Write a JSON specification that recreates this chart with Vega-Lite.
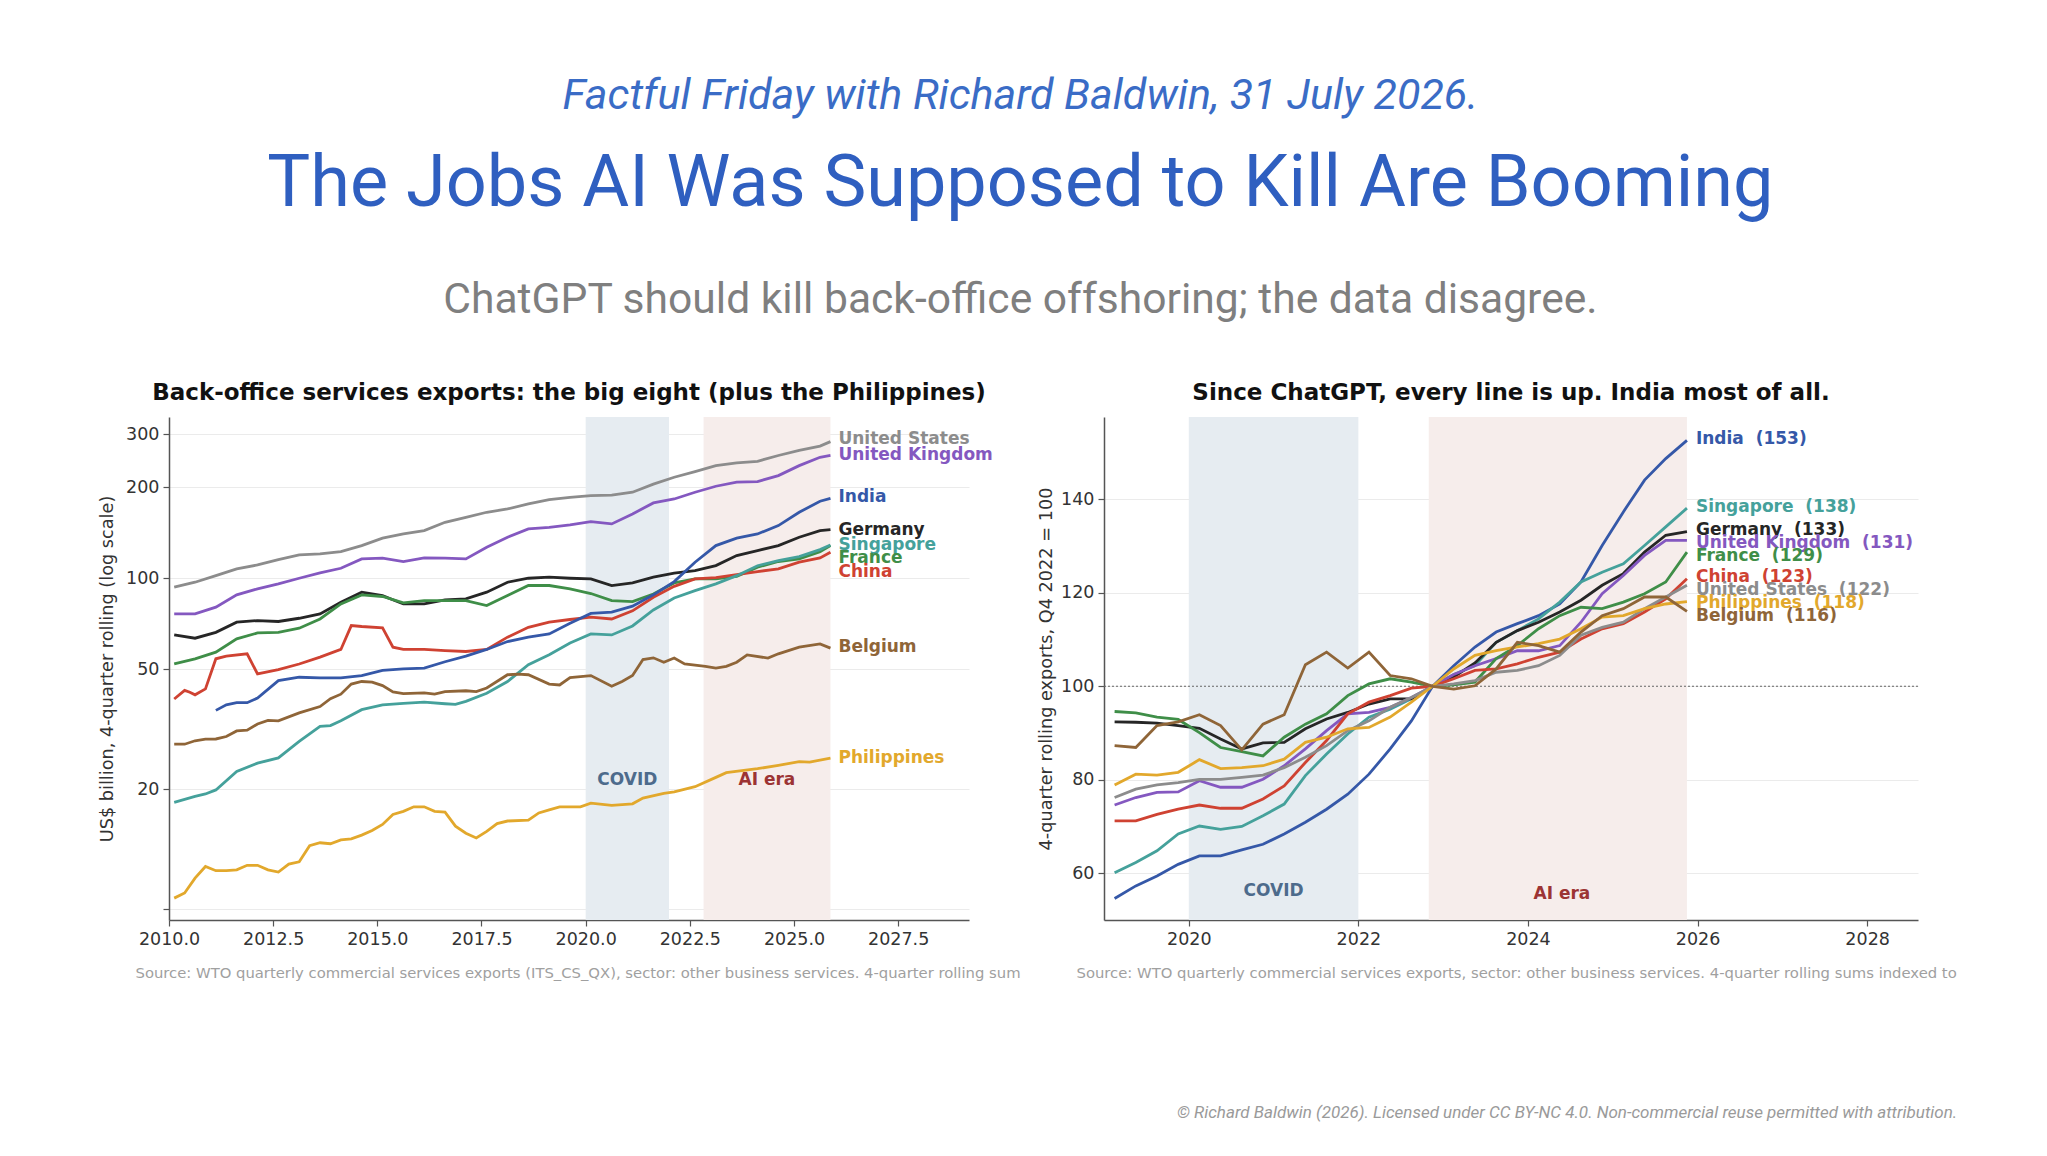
{
  "$schema": "https://vega.github.io/schema/vega-lite/v6.json",
  "background": "#ffffff",
  "autosize": {"type": "pad"},
  "padding": {"left": 98, "top": 75, "right": 10, "bottom": 20},
  "title": {"text": "© Richard Baldwin (2026). Licensed under CC BY-NC 4.0. Non-commercial reuse permitted with attribution.", "orient": "bottom", "anchor": "end", "font": "Roboto", "fontSize": 17, "fontStyle": "italic", "fontWeight": "normal", "color": "#9a9a9a", "offset": 125, "dx": 1},
  "vconcat": [
    {
      "title": {"text": "Factful Friday with Richard Baldwin, 31 July 2026.", "anchor": "middle", "font": "Roboto", "fontSize": 43, "fontStyle": "italic", "fontWeight": "normal", "color": "#3a6cc6", "offset": 30, "dx": -7},
      "vconcat": [
        {
          "title": {"text": "The Jobs AI Was Supposed to Kill Are Booming", "subtitle": "ChatGPT should kill back-office offshoring; the data disagree.", "anchor": "middle", "font": "Roboto", "fontSize": 72, "fontWeight": "normal", "color": "#2f5fc0", "subtitleFont": "Roboto", "subtitleFontSize": 42.6, "subtitleColor": "#7f7f7f", "subtitlePadding": 58, "offset": 59, "dx": -7},
          "spacing": 135,
          "bounds": "flush",
          "hconcat": [
            {
              "width": 800,
              "height": 503,
              "title": {"text": "Back-office services exports: the big eight (plus the Philippines)", "anchor": "middle", "font": "DejaVu Sans", "fontSize": 23, "fontWeight": "bold", "color": "#111111", "offset": 12},
              "layer": [
                {
                  "data": {"name": "bands"},
                  "mark": {"type": "rect"},
                  "encoding": {
                    "x": {"field": "year", "type": "quantitative", "scale": {"domain": [2010, 2029.2], "nice": false, "zero": false}},
                    "x2": {"field": "yearEnd"},
                    "fill": {"field": "band", "type": "nominal", "scale": {"domain": ["COVID", "AI era"], "range": ["#e6ecf1", "#f6edeb"]}, "legend": null}
                  }
                },
                {
                  "data": {"name": "left"},
                  "mark": {"type": "line", "strokeWidth": 2.8},
                  "encoding": {
                    "x": {"field": "year", "type": "quantitative", "scale": {"domain": [2010, 2029.2], "nice": false, "zero": false},
                      "axis": {"values": [2010, 2012.5, 2015, 2017.5, 2020, 2022.5, 2025, 2027.5], "format": ".1f", "labelFlush": false, "grid": false,
                        "title": "Source: WTO quarterly commercial services exports (ITS_CS_QX), sector: other business services. 4-quarter rolling sum",
                        "titleFontSize": 14.8, "titleColor": "#a0a0a0", "titleAnchor": "start", "titleAlign": "left", "titleX": -34, "titleY": 53, "titleBaseline": "middle"}},
                    "y": {"field": "value", "type": "quantitative", "scale": {"type": "log", "domain": [7.38, 342], "nice": false},
                      "axis": {"values": [8, 20, 50, 100, 200, 300], "format": "d", "labelExpr": "datum.value == 8 ? '' : datum.label", "grid": true, "title": "US$ billion, 4-quarter rolling (log scale)", "titleFontSize": 17.7, "titlePadding": 9}},
                    "color": {"field": "country", "type": "nominal", "legend": null,
                      "scale": {"domain": ["United States", "United Kingdom", "India", "Germany", "Singapore", "France", "China", "Belgium", "Philippines"], "range": ["#8c8c8c", "#8458c0", "#3558a8", "#262626", "#45a19b", "#3f8e48", "#cf4232", "#8f6538", "#e2a82c"]}}
                  }
                },
                {
                  "data": {"name": "leftLabels"},
                  "mark": {"type": "text", "align": "left", "baseline": "middle", "dx": 8, "font": "DejaVu Sans", "fontWeight": "bold", "fontSize": 17},
                  "encoding": {
                    "x": {"field": "year", "type": "quantitative"},
                    "y": {"field": "value", "type": "quantitative"},
                    "text": {"field": "label"},
                    "color": {"field": "country", "type": "nominal", "legend": null,
                      "scale": {"domain": ["United States", "United Kingdom", "India", "Germany", "Singapore", "France", "China", "Belgium", "Philippines"], "range": ["#8c8c8c", "#8458c0", "#3558a8", "#262626", "#45a19b", "#3f8e48", "#cf4232", "#8f6538", "#e2a82c"]}}
                  }
                },
                {
                  "data": {"name": "leftBandLabels"},
                  "mark": {"type": "text", "align": "center", "baseline": "middle", "font": "DejaVu Sans", "fontWeight": "bold", "fontSize": 17},
                  "encoding": {
                    "x": {"field": "year", "type": "quantitative"},
                    "y": {"field": "value", "type": "quantitative"},
                    "text": {"field": "label"},
                    "color": {"field": "label", "type": "nominal", "legend": null, "scale": {"domain": ["COVID", "AI era"], "range": ["#4d6b8c", "#9c3434"]}}
                  }
                }
              ],
              "resolve": {"scale": {"color": "independent"}}
            },
            {
              "width": 814,
              "height": 503,
              "title": {"text": "Since ChatGPT, every line is up. India most of all.", "anchor": "middle", "font": "DejaVu Sans", "fontSize": 23, "fontWeight": "bold", "color": "#111111", "offset": 12},
              "layer": [
                {
                  "data": {"name": "bands"},
                  "mark": {"type": "rect"},
                  "encoding": {
                    "x": {"field": "year", "type": "quantitative", "scale": {"domain": [2019, 2028.6], "nice": false, "zero": false}},
                    "x2": {"field": "yearEnd"},
                    "fill": {"field": "band", "type": "nominal", "scale": {"domain": ["COVID", "AI era"], "range": ["#e6ecf1", "#f6edeb"]}, "legend": null}
                  }
                },
                {
                  "data": {"name": "ref"},
                  "mark": {"type": "rule", "strokeDash": [2, 2], "color": "#666666", "strokeWidth": 1},
                  "encoding": {
                    "y": {"field": "value", "type": "quantitative"}
                  }
                },
                {
                  "data": {"name": "right"},
                  "mark": {"type": "line", "strokeWidth": 2.8},
                  "encoding": {
                    "x": {"field": "year", "type": "quantitative", "scale": {"domain": [2019, 2028.6], "nice": false, "zero": false},
                      "axis": {"values": [2020, 2022, 2024, 2026, 2028], "format": "d", "labelFlush": false, "grid": false,
                        "title": "Source: WTO quarterly commercial services exports, sector: other business services. 4-quarter rolling sums indexed to",
                        "titleFontSize": 14.8, "titleColor": "#a0a0a0", "titleAnchor": "start", "titleAlign": "left", "titleX": -28, "titleY": 53, "titleBaseline": "middle"}},
                    "y": {"field": "value", "type": "quantitative", "scale": {"domain": [50, 157.6], "nice": false, "zero": false},
                      "axis": {"values": [60, 80, 100, 120, 140], "grid": true, "title": "4-quarter rolling exports, Q4 2022 = 100", "titleFontSize": 17.7, "titlePadding": 5}},
                    "color": {"field": "country", "type": "nominal", "legend": null,
                      "scale": {"domain": ["United States", "United Kingdom", "India", "Germany", "Singapore", "France", "China", "Belgium", "Philippines"], "range": ["#8c8c8c", "#8458c0", "#3558a8", "#262626", "#45a19b", "#3f8e48", "#cf4232", "#8f6538", "#e2a82c"]}}
                  }
                },
                {
                  "data": {"name": "rightLabels"},
                  "mark": {"type": "text", "align": "left", "baseline": "middle", "dx": 9, "font": "DejaVu Sans", "fontWeight": "bold", "fontSize": 17},
                  "encoding": {
                    "x": {"field": "year", "type": "quantitative"},
                    "y": {"field": "value", "type": "quantitative"},
                    "text": {"field": "label"},
                    "color": {"field": "country", "type": "nominal", "legend": null,
                      "scale": {"domain": ["United States", "United Kingdom", "India", "Germany", "Singapore", "France", "China", "Belgium", "Philippines"], "range": ["#8c8c8c", "#8458c0", "#3558a8", "#262626", "#45a19b", "#3f8e48", "#cf4232", "#8f6538", "#e2a82c"]}}
                  }
                },
                {
                  "data": {"name": "rightBandLabels"},
                  "mark": {"type": "text", "align": "center", "baseline": "middle", "font": "DejaVu Sans", "fontWeight": "bold", "fontSize": 17},
                  "encoding": {
                    "x": {"field": "year", "type": "quantitative"},
                    "y": {"field": "value", "type": "quantitative"},
                    "text": {"field": "label"},
                    "color": {"field": "label", "type": "nominal", "legend": null, "scale": {"domain": ["COVID", "AI era"], "range": ["#4d6b8c", "#9c3434"]}}
                  }
                }
              ],
              "resolve": {"scale": {"color": "independent"}}
            }
          ]
        }
      ]
    }
  ],
  "datasets": {
    "bands": [
      {"band": "COVID", "year": 2020, "yearEnd": 2022},
      {"band": "AI era", "year": 2022.83, "yearEnd": 2025.875}
    ],
    "ref": [{"value": 100}],
    "leftBandLabels": [
      {"label": "COVID", "year": 2021.0, "value": 21.5},
      {"label": "AI era", "year": 2024.35, "value": 21.4}
    ],
    "rightBandLabels": [
      {"label": "COVID", "year": 2021.0, "value": 56.2},
      {"label": "AI era", "year": 2024.4, "value": 55.6}
    ],
    "leftLabels": [
      {"country": "United States", "year": 2025.875, "value": 289, "label": "United States"},
      {"country": "United Kingdom", "year": 2025.875, "value": 255, "label": "United Kingdom"},
      {"country": "India", "year": 2025.875, "value": 185.5, "label": "India"},
      {"country": "Germany", "year": 2025.875, "value": 144.9, "label": "Germany"},
      {"country": "Singapore", "year": 2025.875, "value": 129.2, "label": "Singapore"},
      {"country": "France", "year": 2025.875, "value": 116.5, "label": "France"},
      {"country": "China", "year": 2025.875, "value": 104.7, "label": "China"},
      {"country": "Belgium", "year": 2025.875, "value": 59.4, "label": "Belgium"},
      {"country": "Philippines", "year": 2025.875, "value": 25.35, "label": "Philippines"}
    ],
    "rightLabels": [
      {"country": "India", "year": 2025.875, "value": 153.0, "label": "India\u00a0 (153)"},
      {"country": "Singapore", "year": 2025.875, "value": 138.4, "label": "Singapore\u00a0 (138)"},
      {"country": "Germany", "year": 2025.875, "value": 133.4, "label": "Germany\u00a0 (133)"},
      {"country": "United Kingdom", "year": 2025.875, "value": 130.6, "label": "United Kingdom\u00a0 (131)"},
      {"country": "France", "year": 2025.875, "value": 127.9, "label": "France\u00a0 (129)"},
      {"country": "China", "year": 2025.875, "value": 123.4, "label": "China\u00a0 (123)"},
      {"country": "United States", "year": 2025.875, "value": 120.5, "label": "United States\u00a0 (122)"},
      {"country": "Philippines", "year": 2025.875, "value": 117.9, "label": "Philippines\u00a0 (118)"},
      {"country": "Belgium", "year": 2025.875, "value": 115.1, "label": "Belgium\u00a0 (116)"}
    ],
    "left": [
      {"country": "United States", "year": 2010.125, "value": 93.4},
      {"country": "United States", "year": 2010.625, "value": 97.0},
      {"country": "United States", "year": 2011.125, "value": 102},
      {"country": "United States", "year": 2011.625, "value": 107.4},
      {"country": "United States", "year": 2012.125, "value": 110.7},
      {"country": "United States", "year": 2012.625, "value": 115.3},
      {"country": "United States", "year": 2013.125, "value": 119.5},
      {"country": "United States", "year": 2013.625, "value": 120.4},
      {"country": "United States", "year": 2014.125, "value": 122.5},
      {"country": "United States", "year": 2014.625, "value": 128.3},
      {"country": "United States", "year": 2015.125, "value": 135.7},
      {"country": "United States", "year": 2015.625, "value": 140.2},
      {"country": "United States", "year": 2016.125, "value": 143.8},
      {"country": "United States", "year": 2016.625, "value": 153.2},
      {"country": "United States", "year": 2017.125, "value": 159.2},
      {"country": "United States", "year": 2017.625, "value": 165.4},
      {"country": "United States", "year": 2018.125, "value": 169.6},
      {"country": "United States", "year": 2018.625, "value": 176.2},
      {"country": "United States", "year": 2019.125, "value": 182.2},
      {"country": "United States", "year": 2019.625, "value": 185.4},
      {"country": "United States", "year": 2020.125, "value": 187.8},
      {"country": "United States", "year": 2020.625, "value": 188.5},
      {"country": "United States", "year": 2021.125, "value": 192.7},
      {"country": "United States", "year": 2021.625, "value": 205},
      {"country": "United States", "year": 2022.125, "value": 216},
      {"country": "United States", "year": 2022.625, "value": 225.6},
      {"country": "United States", "year": 2023.125, "value": 236},
      {"country": "United States", "year": 2023.625, "value": 241},
      {"country": "United States", "year": 2024.125, "value": 244},
      {"country": "United States", "year": 2024.625, "value": 255},
      {"country": "United States", "year": 2025.125, "value": 265},
      {"country": "United States", "year": 2025.625, "value": 274},
      {"country": "United States", "year": 2025.875, "value": 283.5},

      {"country": "United Kingdom", "year": 2010.125, "value": 76.2},
      {"country": "United Kingdom", "year": 2010.625, "value": 76.2},
      {"country": "United Kingdom", "year": 2011.125, "value": 80.2},
      {"country": "United Kingdom", "year": 2011.625, "value": 88.1},
      {"country": "United Kingdom", "year": 2012.125, "value": 92.2},
      {"country": "United Kingdom", "year": 2012.625, "value": 95.8},
      {"country": "United Kingdom", "year": 2013.125, "value": 100},
      {"country": "United Kingdom", "year": 2013.625, "value": 104.1},
      {"country": "United Kingdom", "year": 2014.125, "value": 107.9},
      {"country": "United Kingdom", "year": 2014.625, "value": 115.9},
      {"country": "United Kingdom", "year": 2015.125, "value": 116.5},
      {"country": "United Kingdom", "year": 2015.625, "value": 113.6},
      {"country": "United Kingdom", "year": 2016.125, "value": 116.8},
      {"country": "United Kingdom", "year": 2016.625, "value": 116.5},
      {"country": "United Kingdom", "year": 2017.125, "value": 115.9},
      {"country": "United Kingdom", "year": 2017.625, "value": 126.6},
      {"country": "United Kingdom", "year": 2018.125, "value": 136.7},
      {"country": "United Kingdom", "year": 2018.625, "value": 145.7},
      {"country": "United Kingdom", "year": 2019.125, "value": 147.5},
      {"country": "United Kingdom", "year": 2019.625, "value": 150.2},
      {"country": "United Kingdom", "year": 2020.125, "value": 154},
      {"country": "United Kingdom", "year": 2020.625, "value": 151.3},
      {"country": "United Kingdom", "year": 2021.125, "value": 163.3},
      {"country": "United Kingdom", "year": 2021.625, "value": 177.6},
      {"country": "United Kingdom", "year": 2022.125, "value": 183},
      {"country": "United Kingdom", "year": 2022.625, "value": 192.7},
      {"country": "United Kingdom", "year": 2023.125, "value": 201.7},
      {"country": "United Kingdom", "year": 2023.625, "value": 208},
      {"country": "United Kingdom", "year": 2024.125, "value": 209},
      {"country": "United Kingdom", "year": 2024.625, "value": 218.8},
      {"country": "United Kingdom", "year": 2025.125, "value": 236},
      {"country": "United Kingdom", "year": 2025.625, "value": 251.5},
      {"country": "United Kingdom", "year": 2025.875, "value": 255},

      {"country": "Germany", "year": 2010.125, "value": 64.9},
      {"country": "Germany", "year": 2010.625, "value": 63.3},
      {"country": "Germany", "year": 2011.125, "value": 66.2},
      {"country": "Germany", "year": 2011.625, "value": 71.5},
      {"country": "Germany", "year": 2012.125, "value": 72.4},
      {"country": "Germany", "year": 2012.625, "value": 71.9},
      {"country": "Germany", "year": 2013.125, "value": 73.7},
      {"country": "Germany", "year": 2013.625, "value": 76.2},
      {"country": "Germany", "year": 2014.125, "value": 83.3},
      {"country": "Germany", "year": 2014.625, "value": 89.9},
      {"country": "Germany", "year": 2015.125, "value": 87.6},
      {"country": "Germany", "year": 2015.625, "value": 82.2},
      {"country": "Germany", "year": 2016.125, "value": 82.2},
      {"country": "Germany", "year": 2016.625, "value": 84.8},
      {"country": "Germany", "year": 2017.125, "value": 85.4},
      {"country": "Germany", "year": 2017.625, "value": 89.9},
      {"country": "Germany", "year": 2018.125, "value": 97.0},
      {"country": "Germany", "year": 2018.625, "value": 100},
      {"country": "Germany", "year": 2019.125, "value": 100.8},
      {"country": "Germany", "year": 2019.625, "value": 100},
      {"country": "Germany", "year": 2020.125, "value": 99.5},
      {"country": "Germany", "year": 2020.625, "value": 94.6},
      {"country": "Germany", "year": 2021.125, "value": 96.5},
      {"country": "Germany", "year": 2021.625, "value": 100.8},
      {"country": "Germany", "year": 2022.125, "value": 103.9},
      {"country": "Germany", "year": 2022.625, "value": 106},
      {"country": "Germany", "year": 2023.125, "value": 110.1},
      {"country": "Germany", "year": 2023.625, "value": 118.9},
      {"country": "Germany", "year": 2024.125, "value": 123.5},
      {"country": "Germany", "year": 2024.625, "value": 128.3},
      {"country": "Germany", "year": 2025.125, "value": 136.7},
      {"country": "Germany", "year": 2025.625, "value": 143.8},
      {"country": "Germany", "year": 2025.875, "value": 144.9},

      {"country": "France", "year": 2010.125, "value": 52.0},
      {"country": "France", "year": 2010.625, "value": 54.1},
      {"country": "France", "year": 2011.125, "value": 56.9},
      {"country": "France", "year": 2011.625, "value": 63},
      {"country": "France", "year": 2012.125, "value": 65.9},
      {"country": "France", "year": 2012.625, "value": 66.2},
      {"country": "France", "year": 2013.125, "value": 68.3},
      {"country": "France", "year": 2013.625, "value": 73.3},
      {"country": "France", "year": 2014.125, "value": 82.2},
      {"country": "France", "year": 2014.625, "value": 88.1},
      {"country": "France", "year": 2015.125, "value": 87.0},
      {"country": "France", "year": 2015.625, "value": 82.9},
      {"country": "France", "year": 2016.125, "value": 84.3},
      {"country": "France", "year": 2016.625, "value": 84.3},
      {"country": "France", "year": 2017.125, "value": 84.3},
      {"country": "France", "year": 2017.625, "value": 81.2},
      {"country": "France", "year": 2018.125, "value": 87.6},
      {"country": "France", "year": 2018.625, "value": 94.6},
      {"country": "France", "year": 2019.125, "value": 94.6},
      {"country": "France", "year": 2019.625, "value": 92.2},
      {"country": "France", "year": 2020.125, "value": 89},
      {"country": "France", "year": 2020.625, "value": 84.3},
      {"country": "France", "year": 2021.125, "value": 83.7},
      {"country": "France", "year": 2021.625, "value": 88.7},
      {"country": "France", "year": 2022.125, "value": 96.5},
      {"country": "France", "year": 2022.625, "value": 99.5},
      {"country": "France", "year": 2023.125, "value": 99.5},
      {"country": "France", "year": 2023.625, "value": 101.5},
      {"country": "France", "year": 2024.125, "value": 108.8},
      {"country": "France", "year": 2024.625, "value": 113.6},
      {"country": "France", "year": 2025.125, "value": 115.9},
      {"country": "France", "year": 2025.625, "value": 122.5},
      {"country": "France", "year": 2025.875, "value": 128.3},

      {"country": "China", "year": 2010.125, "value": 39.8},
      {"country": "China", "year": 2010.375, "value": 42.5},
      {"country": "China", "year": 2010.5, "value": 41.9},
      {"country": "China", "year": 2010.625, "value": 41.1},
      {"country": "China", "year": 2010.875, "value": 43.0},
      {"country": "China", "year": 2011.125, "value": 54.1},
      {"country": "China", "year": 2011.375, "value": 55.2},
      {"country": "China", "year": 2011.875, "value": 56.2},
      {"country": "China", "year": 2012.125, "value": 48.2},
      {"country": "China", "year": 2012.625, "value": 49.8},
      {"country": "China", "year": 2013.125, "value": 52.0},
      {"country": "China", "year": 2013.625, "value": 54.8},
      {"country": "China", "year": 2014.125, "value": 58.1},
      {"country": "China", "year": 2014.375, "value": 69.7},
      {"country": "China", "year": 2014.625, "value": 69.2},
      {"country": "China", "year": 2015.125, "value": 68.5},
      {"country": "China", "year": 2015.375, "value": 59.1},
      {"country": "China", "year": 2015.625, "value": 58.1},
      {"country": "China", "year": 2016.125, "value": 58.1},
      {"country": "China", "year": 2016.625, "value": 57.6},
      {"country": "China", "year": 2017.125, "value": 57.2},
      {"country": "China", "year": 2017.625, "value": 58.1},
      {"country": "China", "year": 2018.125, "value": 63.8},
      {"country": "China", "year": 2018.625, "value": 68.8},
      {"country": "China", "year": 2019.125, "value": 71.5},
      {"country": "China", "year": 2019.625, "value": 73},
      {"country": "China", "year": 2020.125, "value": 74.3},
      {"country": "China", "year": 2020.625, "value": 73.3},
      {"country": "China", "year": 2021.125, "value": 78},
      {"country": "China", "year": 2021.625, "value": 86.5},
      {"country": "China", "year": 2022.125, "value": 94},
      {"country": "China", "year": 2022.625, "value": 99.5},
      {"country": "China", "year": 2023.125, "value": 100.5},
      {"country": "China", "year": 2023.625, "value": 102.8},
      {"country": "China", "year": 2024.125, "value": 105.2},
      {"country": "China", "year": 2024.625, "value": 107.4},
      {"country": "China", "year": 2025.125, "value": 113},
      {"country": "China", "year": 2025.625, "value": 116.8},
      {"country": "China", "year": 2025.875, "value": 121.9},

      {"country": "India", "year": 2011.125, "value": 36.5},
      {"country": "India", "year": 2011.375, "value": 38.1},
      {"country": "India", "year": 2011.625, "value": 38.7},
      {"country": "India", "year": 2011.875, "value": 38.7},
      {"country": "India", "year": 2012.125, "value": 40.1},
      {"country": "India", "year": 2012.625, "value": 45.8},
      {"country": "India", "year": 2013.125, "value": 47.0},
      {"country": "India", "year": 2013.625, "value": 46.8},
      {"country": "India", "year": 2014.125, "value": 46.8},
      {"country": "India", "year": 2014.625, "value": 47.6},
      {"country": "India", "year": 2015.125, "value": 49.5},
      {"country": "India", "year": 2015.625, "value": 50.1},
      {"country": "India", "year": 2016.125, "value": 50.4},
      {"country": "India", "year": 2016.625, "value": 52.9},
      {"country": "India", "year": 2017.125, "value": 55.2},
      {"country": "India", "year": 2017.625, "value": 58.1},
      {"country": "India", "year": 2018.125, "value": 61.7},
      {"country": "India", "year": 2018.625, "value": 63.8},
      {"country": "India", "year": 2019.125, "value": 65.4},
      {"country": "India", "year": 2019.625, "value": 71},
      {"country": "India", "year": 2020.125, "value": 76.5},
      {"country": "India", "year": 2020.625, "value": 77.2},
      {"country": "India", "year": 2021.125, "value": 80.8},
      {"country": "India", "year": 2021.625, "value": 88.1},
      {"country": "India", "year": 2022.125, "value": 97.5},
      {"country": "India", "year": 2022.625, "value": 113},
      {"country": "India", "year": 2023.125, "value": 128.3},
      {"country": "India", "year": 2023.625, "value": 135.7},
      {"country": "India", "year": 2024.125, "value": 140.2},
      {"country": "India", "year": 2024.625, "value": 149.4},
      {"country": "India", "year": 2025.125, "value": 165.4},
      {"country": "India", "year": 2025.625, "value": 179.9},
      {"country": "India", "year": 2025.875, "value": 184},

      {"country": "Singapore", "year": 2010.125, "value": 18.1},
      {"country": "Singapore", "year": 2010.625, "value": 18.95},
      {"country": "Singapore", "year": 2010.875, "value": 19.3},
      {"country": "Singapore", "year": 2011.125, "value": 19.9},
      {"country": "Singapore", "year": 2011.625, "value": 22.9},
      {"country": "Singapore", "year": 2012.125, "value": 24.4},
      {"country": "Singapore", "year": 2012.625, "value": 25.4},
      {"country": "Singapore", "year": 2013.125, "value": 28.8},
      {"country": "Singapore", "year": 2013.625, "value": 32.3},
      {"country": "Singapore", "year": 2013.875, "value": 32.5},
      {"country": "Singapore", "year": 2014.125, "value": 33.7},
      {"country": "Singapore", "year": 2014.625, "value": 36.7},
      {"country": "Singapore", "year": 2015.125, "value": 38.1},
      {"country": "Singapore", "year": 2015.625, "value": 38.5},
      {"country": "Singapore", "year": 2016.125, "value": 38.9},
      {"country": "Singapore", "year": 2016.625, "value": 38.4},
      {"country": "Singapore", "year": 2016.875, "value": 38.2},
      {"country": "Singapore", "year": 2017.125, "value": 39.1},
      {"country": "Singapore", "year": 2017.625, "value": 41.6},
      {"country": "Singapore", "year": 2018.125, "value": 45.5},
      {"country": "Singapore", "year": 2018.625, "value": 51.7},
      {"country": "Singapore", "year": 2019.125, "value": 55.8},
      {"country": "Singapore", "year": 2019.625, "value": 61.0},
      {"country": "Singapore", "year": 2020.125, "value": 65.4},
      {"country": "Singapore", "year": 2020.625, "value": 64.9},
      {"country": "Singapore", "year": 2021.125, "value": 69.5},
      {"country": "Singapore", "year": 2021.625, "value": 78.5},
      {"country": "Singapore", "year": 2022.125, "value": 86},
      {"country": "Singapore", "year": 2022.625, "value": 91},
      {"country": "Singapore", "year": 2023.125, "value": 95.8},
      {"country": "Singapore", "year": 2023.625, "value": 102},
      {"country": "Singapore", "year": 2024.125, "value": 110},
      {"country": "Singapore", "year": 2024.625, "value": 114.4},
      {"country": "Singapore", "year": 2025.125, "value": 118},
      {"country": "Singapore", "year": 2025.625, "value": 124.4},
      {"country": "Singapore", "year": 2025.875, "value": 128.9},

      {"country": "Belgium", "year": 2010.125, "value": 28.2},
      {"country": "Belgium", "year": 2010.375, "value": 28.2},
      {"country": "Belgium", "year": 2010.625, "value": 28.95},
      {"country": "Belgium", "year": 2010.875, "value": 29.3},
      {"country": "Belgium", "year": 2011.125, "value": 29.35},
      {"country": "Belgium", "year": 2011.375, "value": 29.9},
      {"country": "Belgium", "year": 2011.625, "value": 31.2},
      {"country": "Belgium", "year": 2011.875, "value": 31.4},
      {"country": "Belgium", "year": 2012.125, "value": 32.9},
      {"country": "Belgium", "year": 2012.375, "value": 33.8},
      {"country": "Belgium", "year": 2012.625, "value": 33.7},
      {"country": "Belgium", "year": 2013.125, "value": 35.8},
      {"country": "Belgium", "year": 2013.625, "value": 37.6},
      {"country": "Belgium", "year": 2013.875, "value": 39.9},
      {"country": "Belgium", "year": 2014.125, "value": 41.3},
      {"country": "Belgium", "year": 2014.375, "value": 44.6},
      {"country": "Belgium", "year": 2014.625, "value": 45.5},
      {"country": "Belgium", "year": 2014.875, "value": 45.3},
      {"country": "Belgium", "year": 2015.125, "value": 44.1},
      {"country": "Belgium", "year": 2015.375, "value": 42.0},
      {"country": "Belgium", "year": 2015.625, "value": 41.5},
      {"country": "Belgium", "year": 2016.125, "value": 41.7},
      {"country": "Belgium", "year": 2016.375, "value": 41.3},
      {"country": "Belgium", "year": 2016.625, "value": 42.1},
      {"country": "Belgium", "year": 2017.125, "value": 42.4},
      {"country": "Belgium", "year": 2017.375, "value": 42.1},
      {"country": "Belgium", "year": 2017.625, "value": 43.3},
      {"country": "Belgium", "year": 2018.125, "value": 47.9},
      {"country": "Belgium", "year": 2018.375, "value": 48.1},
      {"country": "Belgium", "year": 2018.625, "value": 47.9},
      {"country": "Belgium", "year": 2019.125, "value": 44.6},
      {"country": "Belgium", "year": 2019.375, "value": 44.3},
      {"country": "Belgium", "year": 2019.625, "value": 46.9},
      {"country": "Belgium", "year": 2020.125, "value": 47.6},
      {"country": "Belgium", "year": 2020.625, "value": 43.9},
      {"country": "Belgium", "year": 2020.875, "value": 45.5},
      {"country": "Belgium", "year": 2021.125, "value": 47.6},
      {"country": "Belgium", "year": 2021.375, "value": 53.8},
      {"country": "Belgium", "year": 2021.625, "value": 54.5},
      {"country": "Belgium", "year": 2021.875, "value": 52.7},
      {"country": "Belgium", "year": 2022.125, "value": 54.4},
      {"country": "Belgium", "year": 2022.375, "value": 52.0},
      {"country": "Belgium", "year": 2022.875, "value": 51.1},
      {"country": "Belgium", "year": 2023.125, "value": 50.4},
      {"country": "Belgium", "year": 2023.375, "value": 51.1},
      {"country": "Belgium", "year": 2023.625, "value": 52.7},
      {"country": "Belgium", "year": 2023.875, "value": 55.7},
      {"country": "Belgium", "year": 2024.375, "value": 54.4},
      {"country": "Belgium", "year": 2024.625, "value": 56.2},
      {"country": "Belgium", "year": 2025.125, "value": 59.1},
      {"country": "Belgium", "year": 2025.625, "value": 60.6},
      {"country": "Belgium", "year": 2025.875, "value": 58.7},

      {"country": "Philippines", "year": 2010.125, "value": 8.72},
      {"country": "Philippines", "year": 2010.375, "value": 9.07},
      {"country": "Philippines", "year": 2010.625, "value": 10.16},
      {"country": "Philippines", "year": 2010.875, "value": 11.1},
      {"country": "Philippines", "year": 2011.125, "value": 10.75},
      {"country": "Philippines", "year": 2011.375, "value": 10.75},
      {"country": "Philippines", "year": 2011.625, "value": 10.82},
      {"country": "Philippines", "year": 2011.875, "value": 11.2},
      {"country": "Philippines", "year": 2012.125, "value": 11.2},
      {"country": "Philippines", "year": 2012.375, "value": 10.82},
      {"country": "Philippines", "year": 2012.625, "value": 10.64},
      {"country": "Philippines", "year": 2012.875, "value": 11.3},
      {"country": "Philippines", "year": 2013.125, "value": 11.5},
      {"country": "Philippines", "year": 2013.375, "value": 13.0},
      {"country": "Philippines", "year": 2013.625, "value": 13.3},
      {"country": "Philippines", "year": 2013.875, "value": 13.2},
      {"country": "Philippines", "year": 2014.125, "value": 13.6},
      {"country": "Philippines", "year": 2014.375, "value": 13.7},
      {"country": "Philippines", "year": 2014.625, "value": 14.1},
      {"country": "Philippines", "year": 2014.875, "value": 14.6},
      {"country": "Philippines", "year": 2015.125, "value": 15.3},
      {"country": "Philippines", "year": 2015.375, "value": 16.5},
      {"country": "Philippines", "year": 2015.625, "value": 16.9},
      {"country": "Philippines", "year": 2015.875, "value": 17.5},
      {"country": "Philippines", "year": 2016.125, "value": 17.5},
      {"country": "Philippines", "year": 2016.375, "value": 16.9},
      {"country": "Philippines", "year": 2016.625, "value": 16.8},
      {"country": "Philippines", "year": 2016.875, "value": 15.1},
      {"country": "Philippines", "year": 2017.125, "value": 14.3},
      {"country": "Philippines", "year": 2017.375, "value": 13.8},
      {"country": "Philippines", "year": 2017.625, "value": 14.5},
      {"country": "Philippines", "year": 2017.875, "value": 15.4},
      {"country": "Philippines", "year": 2018.125, "value": 15.7},
      {"country": "Philippines", "year": 2018.625, "value": 15.8},
      {"country": "Philippines", "year": 2018.875, "value": 16.7},
      {"country": "Philippines", "year": 2019.125, "value": 17.1},
      {"country": "Philippines", "year": 2019.375, "value": 17.5},
      {"country": "Philippines", "year": 2019.875, "value": 17.5},
      {"country": "Philippines", "year": 2020.125, "value": 18.0},
      {"country": "Philippines", "year": 2020.625, "value": 17.7},
      {"country": "Philippines", "year": 2021.125, "value": 17.9},
      {"country": "Philippines", "year": 2021.375, "value": 18.7},
      {"country": "Philippines", "year": 2021.875, "value": 19.4},
      {"country": "Philippines", "year": 2022.125, "value": 19.6},
      {"country": "Philippines", "year": 2022.625, "value": 20.4},
      {"country": "Philippines", "year": 2023.125, "value": 21.9},
      {"country": "Philippines", "year": 2023.375, "value": 22.7},
      {"country": "Philippines", "year": 2024.125, "value": 23.4},
      {"country": "Philippines", "year": 2024.625, "value": 24.0},
      {"country": "Philippines", "year": 2025.125, "value": 24.7},
      {"country": "Philippines", "year": 2025.375, "value": 24.6},
      {"country": "Philippines", "year": 2025.875, "value": 25.35}
    ],
    "right": [
      {"country": "India", "year": 2019.125, "value": 54.6},
      {"country": "India", "year": 2019.375, "value": 57.3},
      {"country": "India", "year": 2019.625, "value": 59.4},
      {"country": "India", "year": 2019.875, "value": 61.9},
      {"country": "India", "year": 2020.125, "value": 63.7},
      {"country": "India", "year": 2020.375, "value": 63.7},
      {"country": "India", "year": 2020.625, "value": 65.0},
      {"country": "India", "year": 2020.875, "value": 66.2},
      {"country": "India", "year": 2021.125, "value": 68.4},
      {"country": "India", "year": 2021.375, "value": 70.9},
      {"country": "India", "year": 2021.625, "value": 73.7},
      {"country": "India", "year": 2021.875, "value": 76.9},
      {"country": "India", "year": 2022.125, "value": 81.2},
      {"country": "India", "year": 2022.375, "value": 86.6},
      {"country": "India", "year": 2022.625, "value": 92.6},
      {"country": "India", "year": 2022.875, "value": 100},
      {"country": "India", "year": 2023.125, "value": 104.4},
      {"country": "India", "year": 2023.375, "value": 108.4},
      {"country": "India", "year": 2023.625, "value": 111.6},
      {"country": "India", "year": 2023.875, "value": 113.4},
      {"country": "India", "year": 2024.125, "value": 115.1},
      {"country": "India", "year": 2024.375, "value": 117.6},
      {"country": "India", "year": 2024.625, "value": 122.3},
      {"country": "India", "year": 2024.875, "value": 130.1},
      {"country": "India", "year": 2025.125, "value": 137.3},
      {"country": "India", "year": 2025.375, "value": 144.1},
      {"country": "India", "year": 2025.625, "value": 148.7},
      {"country": "India", "year": 2025.875, "value": 152.6},

      {"country": "Singapore", "year": 2019.125, "value": 60.1},
      {"country": "Singapore", "year": 2019.375, "value": 62.3},
      {"country": "Singapore", "year": 2019.625, "value": 64.8},
      {"country": "Singapore", "year": 2019.875, "value": 68.4},
      {"country": "Singapore", "year": 2020.125, "value": 70.1},
      {"country": "Singapore", "year": 2020.375, "value": 69.4},
      {"country": "Singapore", "year": 2020.625, "value": 70.0},
      {"country": "Singapore", "year": 2020.875, "value": 72.3},
      {"country": "Singapore", "year": 2021.125, "value": 74.8},
      {"country": "Singapore", "year": 2021.375, "value": 80.9},
      {"country": "Singapore", "year": 2021.625, "value": 85.5},
      {"country": "Singapore", "year": 2021.875, "value": 89.8},
      {"country": "Singapore", "year": 2022.125, "value": 93.4},
      {"country": "Singapore", "year": 2022.375, "value": 95.1},
      {"country": "Singapore", "year": 2022.625, "value": 97.3},
      {"country": "Singapore", "year": 2022.875, "value": 100},
      {"country": "Singapore", "year": 2023.125, "value": 102.5},
      {"country": "Singapore", "year": 2023.375, "value": 104.4},
      {"country": "Singapore", "year": 2023.625, "value": 109.4},
      {"country": "Singapore", "year": 2023.875, "value": 111.9},
      {"country": "Singapore", "year": 2024.125, "value": 114.4},
      {"country": "Singapore", "year": 2024.375, "value": 118},
      {"country": "Singapore", "year": 2024.625, "value": 122.3},
      {"country": "Singapore", "year": 2024.875, "value": 124.4},
      {"country": "Singapore", "year": 2025.125, "value": 126.2},
      {"country": "Singapore", "year": 2025.375, "value": 130.1},
      {"country": "Singapore", "year": 2025.625, "value": 134.1},
      {"country": "Singapore", "year": 2025.875, "value": 138.1},

      {"country": "Germany", "year": 2019.125, "value": 92.4},
      {"country": "Germany", "year": 2019.375, "value": 92.3},
      {"country": "Germany", "year": 2019.625, "value": 92.1},
      {"country": "Germany", "year": 2019.875, "value": 91.6},
      {"country": "Germany", "year": 2020.125, "value": 91.0},
      {"country": "Germany", "year": 2020.375, "value": 88.7},
      {"country": "Germany", "year": 2020.625, "value": 86.6},
      {"country": "Germany", "year": 2020.875, "value": 87.9},
      {"country": "Germany", "year": 2021.125, "value": 88.0},
      {"country": "Germany", "year": 2021.375, "value": 90.9},
      {"country": "Germany", "year": 2021.625, "value": 93.0},
      {"country": "Germany", "year": 2021.875, "value": 94.4},
      {"country": "Germany", "year": 2022.125, "value": 96.2},
      {"country": "Germany", "year": 2022.375, "value": 97.3},
      {"country": "Germany", "year": 2022.625, "value": 97.3},
      {"country": "Germany", "year": 2022.875, "value": 100},
      {"country": "Germany", "year": 2023.125, "value": 102},
      {"country": "Germany", "year": 2023.375, "value": 105},
      {"country": "Germany", "year": 2023.625, "value": 109.4},
      {"country": "Germany", "year": 2023.875, "value": 111.9},
      {"country": "Germany", "year": 2024.125, "value": 113.7},
      {"country": "Germany", "year": 2024.375, "value": 115.9},
      {"country": "Germany", "year": 2024.625, "value": 118.4},
      {"country": "Germany", "year": 2024.875, "value": 121.6},
      {"country": "Germany", "year": 2025.125, "value": 124.1},
      {"country": "Germany", "year": 2025.375, "value": 128.7},
      {"country": "Germany", "year": 2025.625, "value": 132.3},
      {"country": "Germany", "year": 2025.875, "value": 133.1},

      {"country": "United Kingdom", "year": 2019.125, "value": 74.6},
      {"country": "United Kingdom", "year": 2019.375, "value": 76.2},
      {"country": "United Kingdom", "year": 2019.625, "value": 77.3},
      {"country": "United Kingdom", "year": 2019.875, "value": 77.4},
      {"country": "United Kingdom", "year": 2020.125, "value": 79.8},
      {"country": "United Kingdom", "year": 2020.375, "value": 78.4},
      {"country": "United Kingdom", "year": 2020.625, "value": 78.4},
      {"country": "United Kingdom", "year": 2020.875, "value": 80.1},
      {"country": "United Kingdom", "year": 2021.125, "value": 83.0},
      {"country": "United Kingdom", "year": 2021.375, "value": 86.6},
      {"country": "United Kingdom", "year": 2021.625, "value": 90.5},
      {"country": "United Kingdom", "year": 2021.875, "value": 94.1},
      {"country": "United Kingdom", "year": 2022.125, "value": 94.4},
      {"country": "United Kingdom", "year": 2022.375, "value": 95.5},
      {"country": "United Kingdom", "year": 2022.625, "value": 97.6},
      {"country": "United Kingdom", "year": 2022.875, "value": 100},
      {"country": "United Kingdom", "year": 2023.125, "value": 102.5},
      {"country": "United Kingdom", "year": 2023.375, "value": 104.4},
      {"country": "United Kingdom", "year": 2023.625, "value": 105.9},
      {"country": "United Kingdom", "year": 2023.875, "value": 107.6},
      {"country": "United Kingdom", "year": 2024.125, "value": 107.6},
      {"country": "United Kingdom", "year": 2024.375, "value": 108.7},
      {"country": "United Kingdom", "year": 2024.625, "value": 113.7},
      {"country": "United Kingdom", "year": 2024.875, "value": 119.8},
      {"country": "United Kingdom", "year": 2025.125, "value": 123.7},
      {"country": "United Kingdom", "year": 2025.375, "value": 128},
      {"country": "United Kingdom", "year": 2025.625, "value": 131.2},
      {"country": "United Kingdom", "year": 2025.875, "value": 131.2},

      {"country": "France", "year": 2019.125, "value": 94.6},
      {"country": "France", "year": 2019.375, "value": 94.3},
      {"country": "France", "year": 2019.625, "value": 93.4},
      {"country": "France", "year": 2019.875, "value": 92.9},
      {"country": "France", "year": 2020.125, "value": 90.1},
      {"country": "France", "year": 2020.375, "value": 86.9},
      {"country": "France", "year": 2020.625, "value": 86.0},
      {"country": "France", "year": 2020.875, "value": 85.1},
      {"country": "France", "year": 2021.125, "value": 89.1},
      {"country": "France", "year": 2021.375, "value": 91.9},
      {"country": "France", "year": 2021.625, "value": 94.1},
      {"country": "France", "year": 2021.875, "value": 98.0},
      {"country": "France", "year": 2022.125, "value": 100.5},
      {"country": "France", "year": 2022.375, "value": 101.6},
      {"country": "France", "year": 2022.625, "value": 100.9},
      {"country": "France", "year": 2022.875, "value": 100},
      {"country": "France", "year": 2023.125, "value": 100.3},
      {"country": "France", "year": 2023.375, "value": 100.9},
      {"country": "France", "year": 2023.625, "value": 105.9},
      {"country": "France", "year": 2023.875, "value": 108.7},
      {"country": "France", "year": 2024.125, "value": 112.3},
      {"country": "France", "year": 2024.375, "value": 115.1},
      {"country": "France", "year": 2024.625, "value": 116.9},
      {"country": "France", "year": 2024.875, "value": 116.6},
      {"country": "France", "year": 2025.125, "value": 118},
      {"country": "France", "year": 2025.375, "value": 119.8},
      {"country": "France", "year": 2025.625, "value": 122.3},
      {"country": "France", "year": 2025.875, "value": 128.7},

      {"country": "China", "year": 2019.125, "value": 71.2},
      {"country": "China", "year": 2019.375, "value": 71.2},
      {"country": "China", "year": 2019.625, "value": 72.6},
      {"country": "China", "year": 2019.875, "value": 73.7},
      {"country": "China", "year": 2020.125, "value": 74.6},
      {"country": "China", "year": 2020.375, "value": 73.9},
      {"country": "China", "year": 2020.625, "value": 73.9},
      {"country": "China", "year": 2020.875, "value": 75.9},
      {"country": "China", "year": 2021.125, "value": 78.7},
      {"country": "China", "year": 2021.375, "value": 83.7},
      {"country": "China", "year": 2021.625, "value": 88.4},
      {"country": "China", "year": 2021.875, "value": 94.1},
      {"country": "China", "year": 2022.125, "value": 96.6},
      {"country": "China", "year": 2022.375, "value": 98.0},
      {"country": "China", "year": 2022.625, "value": 99.6},
      {"country": "China", "year": 2022.875, "value": 100},
      {"country": "China", "year": 2023.125, "value": 101.6},
      {"country": "China", "year": 2023.375, "value": 103.4},
      {"country": "China", "year": 2023.625, "value": 103.7},
      {"country": "China", "year": 2023.875, "value": 104.8},
      {"country": "China", "year": 2024.125, "value": 106.2},
      {"country": "China", "year": 2024.375, "value": 107.3},
      {"country": "China", "year": 2024.625, "value": 110.1},
      {"country": "China", "year": 2024.875, "value": 112.3},
      {"country": "China", "year": 2025.125, "value": 113.4},
      {"country": "China", "year": 2025.375, "value": 115.9},
      {"country": "China", "year": 2025.625, "value": 118.7},
      {"country": "China", "year": 2025.875, "value": 123},

      {"country": "United States", "year": 2019.125, "value": 76.2},
      {"country": "United States", "year": 2019.375, "value": 78.0},
      {"country": "United States", "year": 2019.625, "value": 78.9},
      {"country": "United States", "year": 2019.875, "value": 79.4},
      {"country": "United States", "year": 2020.125, "value": 80.1},
      {"country": "United States", "year": 2020.375, "value": 80.1},
      {"country": "United States", "year": 2020.625, "value": 80.5},
      {"country": "United States", "year": 2020.875, "value": 81.0},
      {"country": "United States", "year": 2021.125, "value": 82.6},
      {"country": "United States", "year": 2021.375, "value": 84.8},
      {"country": "United States", "year": 2021.625, "value": 87.3},
      {"country": "United States", "year": 2021.875, "value": 90.5},
      {"country": "United States", "year": 2022.125, "value": 92.6},
      {"country": "United States", "year": 2022.375, "value": 95.5},
      {"country": "United States", "year": 2022.625, "value": 97.6},
      {"country": "United States", "year": 2022.875, "value": 100},
      {"country": "United States", "year": 2023.125, "value": 100.5},
      {"country": "United States", "year": 2023.375, "value": 101.2},
      {"country": "United States", "year": 2023.625, "value": 103},
      {"country": "United States", "year": 2023.875, "value": 103.4},
      {"country": "United States", "year": 2024.125, "value": 104.4},
      {"country": "United States", "year": 2024.375, "value": 106.6},
      {"country": "United States", "year": 2024.625, "value": 110.9},
      {"country": "United States", "year": 2024.875, "value": 112.6},
      {"country": "United States", "year": 2025.125, "value": 113.7},
      {"country": "United States", "year": 2025.375, "value": 116.6},
      {"country": "United States", "year": 2025.625, "value": 119.1},
      {"country": "United States", "year": 2025.875, "value": 121.6},

      {"country": "Philippines", "year": 2019.125, "value": 78.9},
      {"country": "Philippines", "year": 2019.375, "value": 81.2},
      {"country": "Philippines", "year": 2019.625, "value": 81.0},
      {"country": "Philippines", "year": 2019.875, "value": 81.6},
      {"country": "Philippines", "year": 2020.125, "value": 84.3},
      {"country": "Philippines", "year": 2020.375, "value": 82.4},
      {"country": "Philippines", "year": 2020.625, "value": 82.6},
      {"country": "Philippines", "year": 2020.875, "value": 83.0},
      {"country": "Philippines", "year": 2021.125, "value": 84.4},
      {"country": "Philippines", "year": 2021.375, "value": 88.0},
      {"country": "Philippines", "year": 2021.625, "value": 89.1},
      {"country": "Philippines", "year": 2021.875, "value": 90.9},
      {"country": "Philippines", "year": 2022.125, "value": 91.2},
      {"country": "Philippines", "year": 2022.375, "value": 93.4},
      {"country": "Philippines", "year": 2022.625, "value": 96.6},
      {"country": "Philippines", "year": 2022.875, "value": 100},
      {"country": "Philippines", "year": 2023.125, "value": 103.7},
      {"country": "Philippines", "year": 2023.375, "value": 106.6},
      {"country": "Philippines", "year": 2023.625, "value": 107.6},
      {"country": "Philippines", "year": 2023.875, "value": 108.4},
      {"country": "Philippines", "year": 2024.125, "value": 109.1},
      {"country": "Philippines", "year": 2024.375, "value": 110.1},
      {"country": "Philippines", "year": 2024.625, "value": 112.3},
      {"country": "Philippines", "year": 2024.875, "value": 114.8},
      {"country": "Philippines", "year": 2025.125, "value": 115.1},
      {"country": "Philippines", "year": 2025.375, "value": 116.6},
      {"country": "Philippines", "year": 2025.625, "value": 117.6},
      {"country": "Philippines", "year": 2025.875, "value": 118.1},

      {"country": "Belgium", "year": 2019.125, "value": 87.3},
      {"country": "Belgium", "year": 2019.375, "value": 86.9},
      {"country": "Belgium", "year": 2019.625, "value": 91.6},
      {"country": "Belgium", "year": 2019.875, "value": 92.4},
      {"country": "Belgium", "year": 2020.125, "value": 93.9},
      {"country": "Belgium", "year": 2020.375, "value": 91.6},
      {"country": "Belgium", "year": 2020.625, "value": 86.4},
      {"country": "Belgium", "year": 2020.875, "value": 91.9},
      {"country": "Belgium", "year": 2021.125, "value": 93.9},
      {"country": "Belgium", "year": 2021.375, "value": 104.6},
      {"country": "Belgium", "year": 2021.625, "value": 107.3},
      {"country": "Belgium", "year": 2021.875, "value": 103.9},
      {"country": "Belgium", "year": 2022.125, "value": 107.3},
      {"country": "Belgium", "year": 2022.375, "value": 102.3},
      {"country": "Belgium", "year": 2022.625, "value": 101.6},
      {"country": "Belgium", "year": 2022.875, "value": 100},
      {"country": "Belgium", "year": 2023.125, "value": 99.4},
      {"country": "Belgium", "year": 2023.375, "value": 100.1},
      {"country": "Belgium", "year": 2023.625, "value": 103.7},
      {"country": "Belgium", "year": 2023.875, "value": 109.4},
      {"country": "Belgium", "year": 2024.125, "value": 108.7},
      {"country": "Belgium", "year": 2024.375, "value": 107.3},
      {"country": "Belgium", "year": 2024.625, "value": 111.6},
      {"country": "Belgium", "year": 2024.875, "value": 115.1},
      {"country": "Belgium", "year": 2025.125, "value": 116.6},
      {"country": "Belgium", "year": 2025.375, "value": 119.1},
      {"country": "Belgium", "year": 2025.625, "value": 119.1},
      {"country": "Belgium", "year": 2025.875, "value": 116}
    ]
  },
  "config": {
    "view": {"stroke": null},
    "font": "DejaVu Sans",
    "axis": {"labelFont": "DejaVu Sans", "labelFontSize": 17.5, "labelColor": "#333333", "domainColor": "#555555", "domainWidth": 1.5, "tickColor": "#555555", "tickWidth": 1.2, "tickSize": 6, "labelPadding": 4, "gridColor": "#ebebeb", "gridWidth": 1, "titleFont": "DejaVu Sans", "titleFontSize": 15, "titleFontWeight": "normal", "titleColor": "#333333"},
    "axisX": {"grid": false},
    "axisY": {"grid": true}
  }
}
